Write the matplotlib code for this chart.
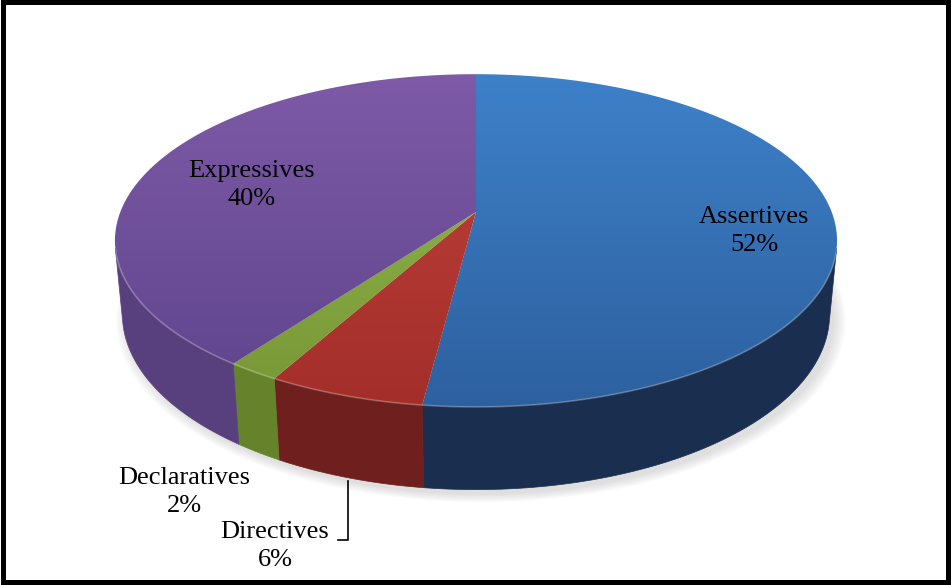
import numpy as np
import matplotlib.pyplot as plt
from matplotlib.patches import Polygon, Rectangle
from matplotlib.colors import to_rgb

# speech act categories, clockwise from the back of the pie
labels = ['Assertives', 'Directives', 'Declaratives', 'Expressives']
shares = [52, 6, 2, 40]

top_light = ['#3e81c9', '#c2423b', '#95bb4c', '#7e5aa7']
top_dark = ['#2d609f', '#a32e2a', '#779636', '#5e448c']
side_colors = ['#1a2f4f', '#6f1f1d', '#66832b', '#58407e']

label_pos = [(754, 231), (275, 546), (184, 492), (252, 185)]

W, H = 951, 585
CX, CY = 476, 212          # projected centre of the top face
TILT = np.radians(27)
DIST = 5.19                # camera distance in pie radii
FOCAL = 1846
THICK = 0.234              # pie height in radii

plt.rcParams['font.family'] = 'serif'
plt.rcParams['font.serif'] = ['Liberation Serif', 'DejaVu Serif']


def project(u, w, h):
    s, c = np.sin(TILT), np.cos(TILT)
    depth = DIST - h * s - w * c
    x = CX + FOCAL * u / depth
    y = CY - FOCAL * (h * c - w * s) / depth
    return x, y


def arc(a0, a1, h, r=1.0, n=120):
    a = np.radians(np.linspace(a0, a1, n))
    x, y = project(r * np.sin(a), -r * np.cos(a), h)
    return np.column_stack([x, y])


def gradient_fill(ax, verts, c0, c1, y0, y1):
    patch = Polygon(verts, closed=True, facecolor='none', edgecolor='none')
    ax.add_patch(patch)
    t = np.linspace(0, 1, 256)[:, None]
    img = (1 - t) * np.array(to_rgb(c0)) + t * np.array(to_rgb(c1))
    img = np.repeat(img[:, None, :], 2, axis=1)
    im = ax.imshow(img, extent=(0, W, y1, y0), origin='upper',
                   aspect='auto', interpolation='bilinear', zorder=3)
    im.set_clip_path(patch)


fig = plt.figure(figsize=(9.51, 5.85), dpi=100)
ax = fig.add_axes([0, 0, 1, 1])
ax.axis('off')

bounds = np.concatenate([[0], np.cumsum(shares)]) * 3.6

# soft shadow under the pie, cast down and to the right
for r in np.linspace(1.0, 1.03, 6):
    pts = arc(60, 280, -THICK, r=r, n=200) + np.array([5, 5])
    ax.add_patch(Polygon(pts, closed=True, facecolor='#808080',
                         edgecolor='none', alpha=0.045, zorder=1))

# visible part of the side wall
w_min = 1.0 / (DIST * np.cos(TILT))
vis0 = np.degrees(np.arccos(-w_min))
vis1 = 360 - vis0
for i in range(len(shares)):
    a0, a1 = max(bounds[i], vis0), min(bounds[i + 1], vis1)
    if a1 <= a0:
        continue
    top = arc(a0, a1, 0)
    bot = arc(a0, a1, -THICK)[::-1]
    ax.add_patch(Polygon(np.vstack([top, bot]), closed=True,
                         facecolor=side_colors[i], edgecolor=side_colors[i],
                         lw=0.5, zorder=2))

# top faces with a light-to-dark gradient
cx, cy = project(0, 0, 0)
for i in range(len(shares)):
    verts = np.vstack([[cx, cy], arc(bounds[i], bounds[i + 1], 0)])
    gradient_fill(ax, verts, top_light[i], top_dark[i], 72, 410)

# light rim along the front edge
rim = arc(vis0, vis1, 0)
ax.plot(rim[:, 0], rim[:, 1], color='white', alpha=0.25, lw=1.2, zorder=4)

# data labels
for i, (name, share) in enumerate(zip(labels, shares)):
    x, y = label_pos[i]
    ax.text(x, y, f'{name}\n{share}%', ha='center', va='center',
            fontsize=19, linespacing=1.3, zorder=5)

# leader line for the Directives label
mid = (bounds[1] + bounds[2]) / 2
lx, ly = project(np.sin(np.radians(mid)), -np.cos(np.radians(mid)), -THICK)
ax.plot([lx, lx, 338], [ly + 3, 540, 540], color='black', lw=1.2, zorder=5)

# chart border
ax.add_patch(Rectangle((2.5, 2), W - 5.5, H - 5, facecolor='none',
                       edgecolor='black', lw=3.6, zorder=6))

ax.set_xlim(0, W)
ax.set_ylim(H, 0)
fig.savefig('out.png', dpi=100)
